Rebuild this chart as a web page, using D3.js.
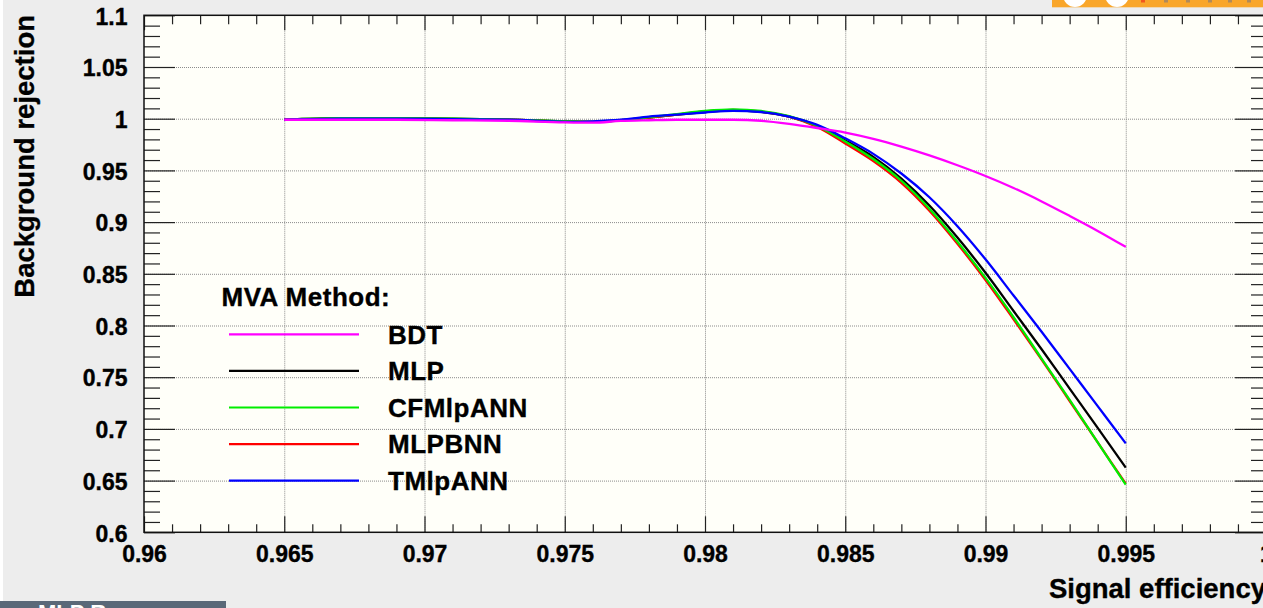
<!DOCTYPE html>
<html>
<head>
<meta charset="utf-8">
<script src="https://cdn.jsdelivr.net/npm/d3@7"></script>
<style>
  html, body { margin: 0; padding: 0; background: #ededed; overflow: hidden; }
  svg { display: block; font-family: "Liberation Sans", Arial, Helvetica, sans-serif; font-weight: bold; }
  .heavy { stroke: #000; stroke-width: 0.35px; }
</style>
</head>
<body>
<div id="roc-chart"></div>
<script>
const effPoints = [0.965, 0.967, 0.969, 0.971, 0.973, 0.975, 0.976, 0.977, 0.978, 0.979,
                   0.980, 0.981, 0.982, 0.983, 0.984, 0.985, 0.986, 0.987, 0.988, 0.989,
                   0.990, 0.991, 0.992, 0.993, 0.994, 0.995];

// background rejection per method
const bdtRej    = [0.999, 0.999, 0.999, 0.9985, 0.998, 0.9965, 0.9962, 0.9978, 0.9985, 0.999,
                   0.999, 0.999, 0.998, 0.995, 0.991, 0.9865, 0.9805, 0.973, 0.9645, 0.955,
                   0.9446, 0.933, 0.920, 0.906, 0.8915, 0.876];
const mlpRej    = [0.999, 1.0005, 1.0005, 1.0, 0.999, 0.9975, 0.997, 0.9985, 1.001, 1.004,
                   1.0065, 1.008, 1.0065, 1.002, 0.993, 0.979, 0.963, 0.942, 0.916, 0.885,
                   0.851, 0.814, 0.777, 0.739, 0.701, 0.6625];
const cfmlpRej  = [0.999, 1.0005, 1.0005, 1.0, 0.999, 0.9975, 0.997, 0.9985, 1.0015, 1.0045,
                   1.0075, 1.009, 1.0075, 1.0025, 0.993, 0.978, 0.961, 0.940, 0.913, 0.881,
                   0.846, 0.808, 0.768, 0.728, 0.687, 0.646];
const mlpbnnRej = [0.999, 1.0, 1.0, 0.9995, 0.999, 0.9972, 0.997, 0.9985, 1.001, 1.004,
                   1.007, 1.0085, 1.007, 1.002, 0.992, 0.976, 0.959, 0.938, 0.911, 0.879,
                   0.844, 0.806, 0.767, 0.727, 0.687, 0.647];
const tmlpRej   = [0.999, 1.0, 1.0, 0.9995, 0.999, 0.997, 0.9975, 0.999, 1.002, 1.004,
                   1.006, 1.0075, 1.0065, 1.002, 0.994, 0.981, 0.966, 0.947, 0.924, 0.896,
                   0.864, 0.829, 0.794, 0.758, 0.722, 0.686];

const methodNames = ["BDT", "MLP", "CFMlpANN", "MLPBNN", "TMlpANN"];
const methodValues = [bdtRej, mlpRej, cfmlpRej, mlpbnnRej, tmlpRej];

const xMajorTicks = [0.96, 0.965, 0.97, 0.975, 0.98, 0.985, 0.99, 0.995, 1.0];
const xTickLabels = ["0.96", "0.965", "0.97", "0.975", "0.98", "0.985", "0.99", "0.995", "1"];
const yMajorTicks = [0.6, 0.65, 0.7, 0.75, 0.8, 0.85, 0.9, 0.95, 1.0, 1.05, 1.1];
const yTickLabels = ["0.6", "0.65", "0.7", "0.75", "0.8", "0.85", "0.9", "0.95", "1", "1.05", "1.1"];

const methodColors = {
    "BDT": "#ff00ff",
    "MLP": "#000000",
    "CFMlpANN": "#00ee00",
    "MLPBNN": "#ff0000",
    "TMlpANN": "#0000ff"
};

class rocCurveVis {

    constructor(parentElement) {
        this.parentElement = parentElement;
        this.series = methodNames.map((name, i) => ({
            name: name,
            values: effPoints.map((e, j) => ({eff: e, rej: methodValues[i][j]}))
        }));
        this.initVis();
    }

    initVis() {
        let vis = this;
        vis.margin = { top: 15.3, left: 144 };
        vis.width = 1122;
        vis.height = 517;

        vis.root = d3.select('#' + vis.parentElement).append("svg")
            .attr("width", 1263)
            .attr("height", 608);

        // window decorations at the edges of the screenshot
        vis.root.append("rect").attr("x", 0).attr("y", 0).attr("width", 3).attr("height", 601).attr("fill", "#ffffff");
        vis.root.append("rect").attr("x", 1052).attr("y", 0).attr("width", 211).attr("height", 7.3).attr("fill", "#f9a62a");
        [1075, 1117].forEach(cx => vis.root.append("circle").attr("cx", cx).attr("cy", -5).attr("r", 12).attr("fill", "#ffffff"));
        [1143, 1166, 1188, 1210, 1230, 1249].forEach((dx, i) => vis.root.append("rect")
            .attr("x", dx - 2).attr("y", 0).attr("width", 4).attr("height", 2.5)
            .attr("fill", i === 0 ? "#f2561d" : "#b08a5a"));
        vis.root.append("rect").attr("x", 0).attr("y", 601).attr("width", 226).attr("height", 7).attr("fill", "#5a6878");
        vis.root.append("text").attr("x", 38).attr("y", 620).attr("fill", "#ffffff")
            .style("font-size", "22px").text("MLP Response");

        vis.svg = vis.root.append("g")
            .attr("transform", "translate(" + vis.margin.left + "," + vis.margin.top + ")");

        vis.svg.append("rect")
            .attr("width", vis.width)
            .attr("height", vis.height)
            .attr("fill", "#fffff9");

        vis.x = d3.scaleLinear().domain([0.96, 1.0]).range([0, vis.width]);
        vis.y = d3.scaleLinear().domain([0.6, 1.1]).range([vis.height, 0]);

        vis.updateVis();
    }

    updateVis() {
        let vis = this;

        let xMinor = d3.range(961, 1000).filter(k => k % 5 !== 0).map(k => k / 1000);
        let yMinor = d3.range(61, 110).filter(k => k % 5 !== 0).map(k => k / 100);
        let xGrid = xMajorTicks.slice(1, -1);
        let yGrid = yMajorTicks.slice(1, -1);

        // dotted grid
        vis.svg.append("g").attr("class", "grid")
            .call(d3.axisBottom(vis.x).tickValues(xGrid).tickSize(vis.height).tickFormat(""));
        vis.svg.append("g").attr("class", "grid")
            .call(d3.axisRight(vis.y).tickValues(yGrid).tickSize(vis.width).tickFormat(""));
        vis.svg.selectAll(".grid .domain").remove();
        vis.svg.selectAll(".grid line")
            .attr("stroke", "#8c8c8c")
            .attr("stroke-width", 1)
            .attr("stroke-dasharray", "1,1");

        // inward ticks on all four sides
        let tickGroups = [
            [d3.axisTop(vis.x).tickValues(xMajorTicks).tickSize(16), vis.height, 0],
            [d3.axisTop(vis.x).tickValues(xMinor).tickSize(8), vis.height, 0],
            [d3.axisBottom(vis.x).tickValues(xMajorTicks).tickSize(15), 0, 0],
            [d3.axisBottom(vis.x).tickValues(xMinor).tickSize(9), 0, 0],
            [d3.axisRight(vis.y).tickValues(yMajorTicks).tickSize(31), 0, 0],
            [d3.axisRight(vis.y).tickValues(yMinor).tickSize(16), 0, 0],
            [d3.axisLeft(vis.y).tickValues(yMajorTicks).tickSize(31), 0, vis.width],
            [d3.axisLeft(vis.y).tickValues(yMinor).tickSize(15), 0, vis.width]
        ];
        tickGroups.forEach(([axis, ty, tx]) => {
            let g = vis.svg.append("g").attr("class", "ticks")
                .attr("transform", "translate(" + tx + "," + ty + ")")
                .call(axis.tickFormat(""));
            g.select(".domain").remove();
            g.selectAll("line").attr("stroke", "#222").attr("stroke-width", 1.2);
        });

        // tick labels
        let xLab = vis.svg.append("g")
            .attr("transform", "translate(0," + vis.height + ")")
            .call(d3.axisBottom(vis.x).tickValues(xMajorTicks).tickSize(0).tickPadding(13)
                .tickFormat((d, i) => xTickLabels[i]));
        let yLab = vis.svg.append("g")
            .call(d3.axisLeft(vis.y).tickValues(yMajorTicks).tickSize(0).tickPadding(16.5)
                .tickFormat((d, i) => yTickLabels[i]));
        [xLab, yLab].forEach(g => {
            g.select(".domain").remove();
            g.selectAll("text")
                .attr("class", "heavy")
                .style("font-family", "'Liberation Sans', Arial, sans-serif")
                .style("font-weight", "bold")
                .style("font-size", "23px")
                .attr("fill", "#000");
        });
        yLab.selectAll("text").attr("dy", "0.38em");

        // curves, drawn so the overlaps look like the original
        let line = d3.line()
            .x(d => vis.x(d.eff))
            .y(d => vis.y(d.rej))
            .curve(d3.curveMonotoneX);

        let drawOrder = ["MLP", "MLPBNN", "CFMlpANN", "TMlpANN", "BDT"];
        vis.svg.selectAll(".roc")
            .data(drawOrder.map(n => vis.series.find(s => s.name === n)))
            .enter()
            .append("path")
            .attr("class", "roc")
            .attr("d", d => line(d.values))
            .attr("fill", "none")
            .attr("stroke", d => methodColors[d.name])
            .attr("stroke-width", 2.3);

        // frame
        vis.svg.append("rect")
            .attr("width", vis.width)
            .attr("height", vis.height)
            .attr("fill", "none")
            .attr("stroke", "#111")
            .attr("stroke-width", 1.5);

        // legend
        let legend = vis.root.append("g").attr("class", "legend");
        legend.append("text")
            .attr("class", "heavy")
            .attr("x", 221.5)
            .attr("y", 306)
            .style("font-size", "26px")
            .style("letter-spacing", "0.5px")
            .text("MVA Method:");

        let entries = legend.selectAll(".entry")
            .data(vis.series)
            .enter()
            .append("g")
            .attr("class", "entry")
            .attr("transform", (d, i) => "translate(0," + (334.3 + i * 36.6) + ")");
        entries.append("line")
            .attr("x1", 229).attr("x2", 359)
            .attr("stroke", d => methodColors[d.name])
            .attr("stroke-width", 2.2);
        entries.append("text")
            .attr("class", "heavy")
            .attr("x", 388)
            .attr("dy", "0.36em")
            .style("font-size", "26px")
            .style("letter-spacing", "0.5px")
            .text(d => d.name);

        // axis titles
        vis.root.append("text")
            .attr("class", "heavy")
            .attr("transform", "translate(34,15) rotate(-90)")
            .attr("text-anchor", "end")
            .style("font-size", "27.5px")
            .text("Background rejection");

        vis.root.append("text")
            .attr("class", "heavy")
            .attr("x", vis.margin.left + vis.width)
            .attr("y", 598)
            .attr("text-anchor", "end")
            .style("font-size", "27.5px")
            .text("Signal efficiency");
    }
}

new rocCurveVis("roc-chart");
</script>
</body>
</html>
